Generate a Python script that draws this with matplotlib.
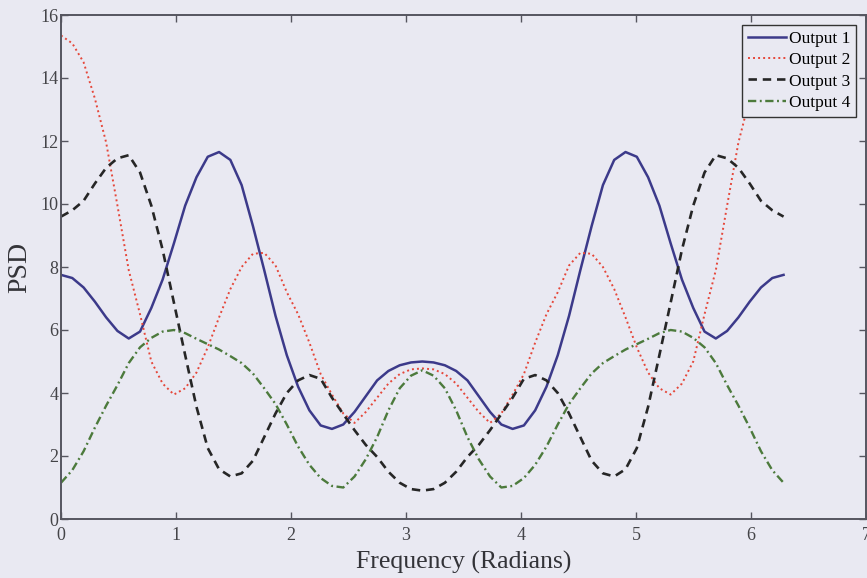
import numpy as np
import matplotlib
matplotlib.use("Agg")
import matplotlib.pyplot as plt

plt.rcParams['font.family'] = ['Liberation Serif', 'DejaVu Serif']

# 周波数グリッド (0 .. 2π, π/32 刻み)
freq = np.linspace(0, 2 * np.pi, 65)

output1 = [7.75, 7.65, 7.35, 6.9, 6.4, 5.97, 5.73, 5.95, 6.7, 7.6, 8.75, 9.95, 10.85,
           11.5, 11.65, 11.4, 10.6, 9.3, 7.9, 6.45, 5.2, 4.2, 3.45, 2.97, 2.86,
           3.0, 3.4, 3.9, 4.4, 4.7, 4.88, 4.97, 5.0,
           4.97, 4.88, 4.7, 4.4, 3.9, 3.4, 3.0, 2.86, 2.97, 3.45, 4.2, 5.2, 6.45,
           7.9, 9.3, 10.6, 11.4, 11.65, 11.5, 10.85, 9.95, 8.75, 7.6, 6.7, 5.95,
           5.73, 5.97, 6.4, 6.9, 7.35, 7.65, 7.75]

output2 = [15.35, 15.1, 14.5, 13.35, 11.95, 9.95, 7.9, 6.5, 5.0, 4.3, 3.95, 4.15,
           4.65, 5.45, 6.4, 7.3, 8.0, 8.42, 8.45, 8.05, 7.2, 6.5, 5.6, 4.6, 3.95,
           3.35, 3.05, 3.4, 3.85, 4.3, 4.6, 4.75, 4.78,
           4.75, 4.6, 4.3, 3.85, 3.4, 3.05, 3.35, 3.95, 4.6, 5.6, 6.5, 7.2, 8.05,
           8.45, 8.42, 8.0, 7.3, 6.4, 5.45, 4.65, 4.15, 3.95, 4.3, 5.0, 6.5,
           7.9, 9.95, 11.95, 13.35, 14.5, 15.1, 15.35]

output3 = [9.6, 9.8, 10.1, 10.65, 11.15, 11.45, 11.55, 11.0, 9.95, 8.55, 6.87,
           5.2, 3.56, 2.25, 1.58, 1.35, 1.45, 1.85, 2.6, 3.35, 4.0, 4.4, 4.57,
           4.45, 3.85, 3.33, 2.82, 2.35, 1.97, 1.5, 1.15, 0.95, 0.9,
           0.95, 1.15, 1.5, 1.97, 2.35, 2.82, 3.33, 3.85, 4.45, 4.57, 4.4, 4.0,
           3.35, 2.6, 1.85, 1.45, 1.35, 1.58, 2.25, 3.56, 5.2, 6.87, 8.55, 9.95,
           11.0, 11.55, 11.45, 11.15, 10.65, 10.1, 9.8, 9.6]

output4 = [1.15, 1.55, 2.15, 2.9, 3.6, 4.25, 4.95, 5.45, 5.75, 5.95, 6.0, 5.9,
           5.72, 5.55, 5.38, 5.17, 4.95, 4.62, 4.15, 3.65, 3.0, 2.3, 1.72, 1.3,
           1.05, 1.0, 1.35, 1.9, 2.6, 3.45, 4.15, 4.55, 4.72,
           4.55, 4.15, 3.45, 2.6, 1.9, 1.35, 1.0, 1.05, 1.3, 1.72, 2.3, 3.0,
           3.65, 4.15, 4.62, 4.95, 5.17, 5.38, 5.55, 5.72, 5.9, 6.0, 5.95, 5.75,
           5.45, 4.95, 4.25, 3.6, 2.9, 2.15, 1.55, 1.15]

labels = ["Output 1", "Output 2", "Output 3", "Output 4"]
xticks = [0, 1, 2, 3, 4, 5, 6, 7]
yticks = [0, 2, 4, 6, 8, 10, 12, 14, 16]

bg = '#e9e9f2'
axis_col = '#55555f'

fig = plt.figure(figsize=(8.67, 5.78), dpi=100, facecolor=bg)
ax = fig.add_axes([61 / 867, 59 / 578, 805 / 867, 504 / 578], facecolor=bg)

ax.plot(freq, output1, color='#3c3a8a', lw=1.8, ls='-', label=labels[0])
ax.plot(freq, output2, color='#e5473a', lw=1.4, ls=(0, (1, 1.6)), label=labels[1])
ax.plot(freq, output3, color='#262626', lw=1.9, ls=(0, (3.2, 2.2)), label=labels[2])
ax.plot(freq, output4, color='#4c7a3c', lw=1.7, ls=(0, (3.5, 1.5, 0.8, 1.5)), label=labels[3])

ax.set_xlim(0, 7)
ax.set_ylim(0, 16)
ax.set_xticks(xticks)
ax.set_yticks(yticks)

for s in ax.spines.values():
    s.set_color(axis_col)
    s.set_linewidth(1.4)

ax.tick_params(direction='in', top=True, right=True, length=5, width=1.0,
               color=axis_col, labelsize=13, labelcolor='#444448')
ax.tick_params(axis='x', pad=6)
ax.tick_params(axis='y', pad=2)

ax.set_xlabel("Frequency (Radians)", fontsize=18.5, color='#333338', labelpad=5)
ax.set_ylabel("PSD", fontsize=20, color='#333338', labelpad=6)

leg = ax.legend(loc='upper right', fontsize=12.5, frameon=True, fancybox=False,
                borderaxespad=0.55, handlelength=2.2, handletextpad=0.15,
                labelspacing=0.3, borderpad=0.35)
leg.get_frame().set_facecolor(bg)
leg.get_frame().set_edgecolor('#333333')
leg.get_frame().set_linewidth(1.0)
leg.get_frame().set_alpha(1.0)

fig.savefig('out.png', dpi=100, facecolor=bg)
